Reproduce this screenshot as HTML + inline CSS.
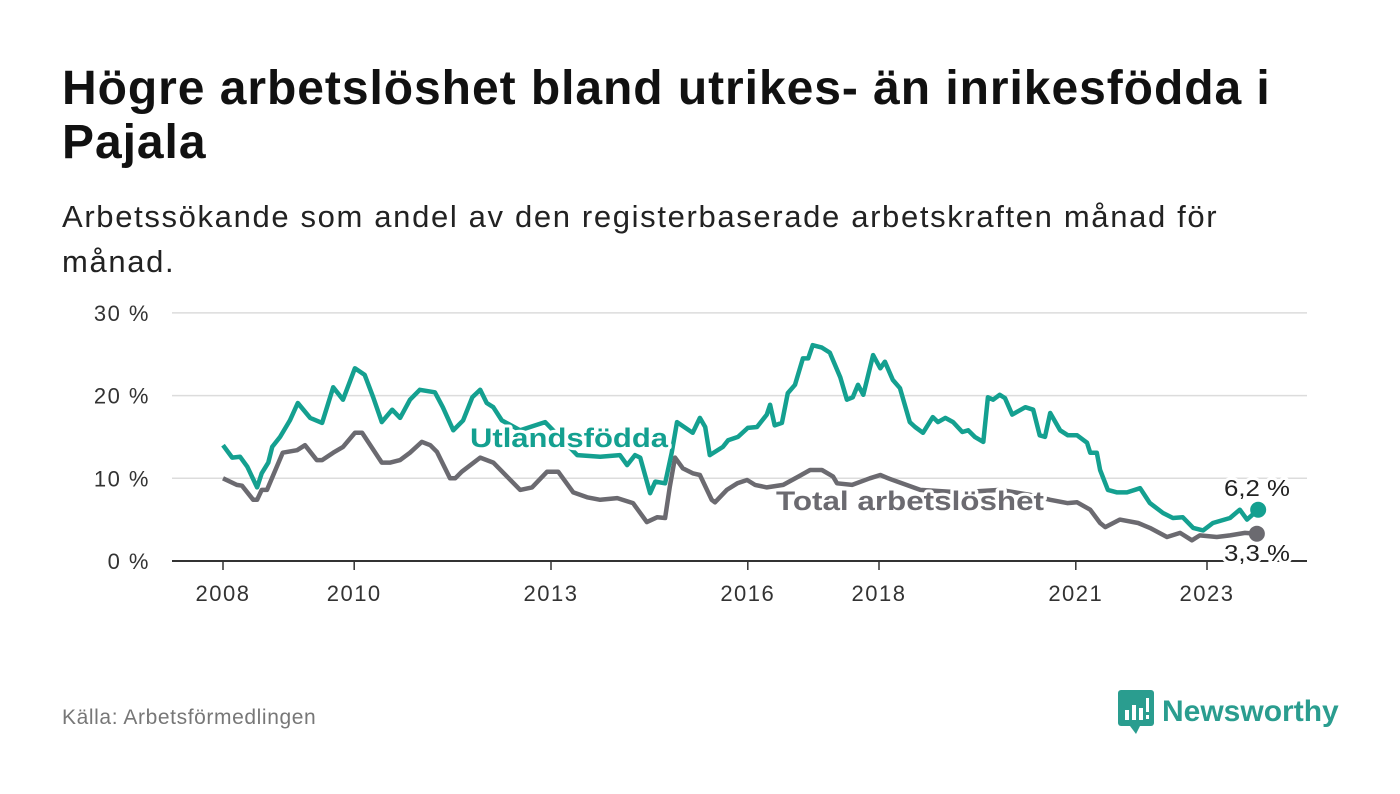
<!DOCTYPE html>
<html><head><meta charset="utf-8">
<style>
body{margin:0;width:1400px;height:794px;background:#fff;font-family:"Liberation Sans",sans-serif;overflow:hidden;position:relative}
h1{position:absolute;left:62px;top:62px;margin:0;font-size:48px;line-height:54px;font-weight:bold;color:#111;width:1320px;letter-spacing:0.95px;white-space:nowrap}
.sub{position:absolute;left:62px;top:194px;margin:0;font-size:31px;line-height:45px;color:#222;width:1300px;letter-spacing:1.65px;white-space:nowrap}
.src{position:absolute;left:62px;top:706px;font-size:21px;color:#777;letter-spacing:0.6px}
.logo{position:absolute;left:1118px;top:690px;display:flex;align-items:center}
.logo span{font-size:30px;font-weight:bold;color:#2a9d8f;margin-left:8px}
</style></head><body>
<h1>Högre arbetslöshet bland utrikes- än inrikesfödda i<br>Pajala</h1>
<p class="sub">Arbetssökande som andel av den registerbaserade arbetskraften månad för<br>månad.</p>
<svg id="chart" width="1400" height="794" style="position:absolute;left:0;top:0"></svg>
<div class="src">Källa: Arbetsförmedlingen</div>
<div class="logo">
<svg width="36" height="44"><rect x="0" y="0" width="36" height="36" rx="3" fill="#2a9d8f"/><path d="M12 36 L18 44 L22 36Z" fill="#2a9d8f"/><rect x="7" y="20" width="4" height="10" fill="#fff"/><rect x="14" y="15" width="4" height="15" fill="#fff"/><rect x="21" y="18" width="4" height="12" fill="#fff"/><rect x="28" y="8" width="3" height="14" fill="#fff"/><rect x="28" y="25" width="3" height="4" fill="#fff"/></svg>
<span>Newsworthy</span></div>
<script>
const yTicks=[0,10,20,30];
const xTicks=[2008,2010,2013,2016,2018,2021,2023];
const utlDates=[2008.0,2008.14,2008.26,2008.37,2008.52,2008.59,2008.69,2008.75,2008.87,2009.02,2009.14,2009.33,2009.51,2009.68,2009.83,2010.01,2010.16,2010.29,2010.42,2010.58,2010.70,2010.85,2011.0,2011.23,2011.35,2011.51,2011.66,2011.80,2011.92,2012.02,2012.12,2012.25,2012.53,2012.91,2013.40,2013.75,2014.05,2014.16,2014.28,2014.36,2014.51,2014.59,2014.74,2014.84,2014.92,2015.16,2015.27,2015.35,2015.42,2015.62,2015.70,2015.85,2016.0,2016.14,2016.29,2016.34,2016.41,2016.52,2016.61,2016.72,2016.84,2016.92,2016.99,2017.13,2017.25,2017.41,2017.51,2017.60,2017.68,2017.76,2017.91,2018.02,2018.09,2018.21,2018.32,2018.47,2018.55,2018.67,2018.82,2018.90,2019.01,2019.13,2019.27,2019.36,2019.46,2019.59,2019.66,2019.74,2019.84,2019.92,2020.03,2020.23,2020.35,2020.45,2020.53,2020.61,2020.76,2020.88,2021.02,2021.17,2021.22,2021.32,2021.37,2021.49,2021.63,2021.78,2021.98,2022.13,2022.33,2022.48,2022.63,2022.79,2022.94,2023.09,2023.35,2023.50,2023.61,2023.78];
const utlValues=[14.0,12.5,12.6,11.4,8.9,10.6,11.9,13.8,15.0,17.0,19.1,17.3,16.7,21.0,19.5,23.3,22.5,19.8,16.8,18.3,17.3,19.5,20.7,20.4,18.6,15.8,17.0,19.8,20.7,19.1,18.6,17.0,15.8,16.8,12.8,12.6,12.8,11.6,12.8,12.5,8.2,9.6,9.4,13.1,16.8,15.5,17.3,16.2,12.8,13.8,14.6,15.0,16.1,16.2,17.7,18.9,16.4,16.7,20.3,21.3,24.5,24.5,26.1,25.8,25.2,22.2,19.5,19.8,21.3,20.1,24.9,23.3,24.1,21.9,20.9,16.8,16.2,15.5,17.4,16.8,17.3,16.8,15.6,15.8,15.0,14.4,19.8,19.5,20.1,19.7,17.7,18.6,18.3,15.2,15.0,17.9,15.8,15.2,15.2,14.3,13.1,13.1,11.0,8.6,8.3,8.3,8.8,7.0,5.8,5.2,5.3,4.0,3.7,4.6,5.2,6.2,5.0,6.2];
const totDates=[2008.0,2008.21,2008.29,2008.46,2008.52,2008.59,2008.67,2008.91,2009.13,2009.25,2009.43,2009.51,2009.68,2009.83,2010.01,2010.12,2010.42,2010.55,2010.70,2010.85,2011.03,2011.16,2011.26,2011.46,2011.54,2011.64,2011.92,2012.12,2012.53,2012.71,2012.94,2013.11,2013.34,2013.55,2013.75,2014.01,2014.25,2014.46,2014.62,2014.74,2014.81,2014.89,2015.01,2015.16,2015.27,2015.45,2015.50,2015.68,2015.84,2015.99,2016.11,2016.29,2016.54,2016.77,2016.95,2017.13,2017.30,2017.36,2017.59,2017.86,2018.02,2018.14,2018.63,2019.23,2019.84,2020.30,2020.61,2020.87,2021.02,2021.22,2021.37,2021.45,2021.67,2021.95,2022.13,2022.39,2022.59,2022.77,2022.89,2023.15,2023.35,2023.58,2023.76];
const totValues=[10.0,9.2,9.1,7.4,7.4,8.6,8.6,13.1,13.4,14.0,12.2,12.2,13.1,13.8,15.5,15.5,11.9,11.9,12.2,13.1,14.4,14.0,13.2,10.0,10.0,10.8,12.5,11.9,8.6,8.9,10.8,10.8,8.3,7.7,7.4,7.6,7.0,4.7,5.3,5.2,8.9,12.5,11.2,10.6,10.4,7.4,7.1,8.6,9.4,9.8,9.2,8.9,9.2,10.2,11.0,11.0,10.2,9.4,9.2,10.0,10.4,10.0,8.6,8.3,8.6,8.0,7.4,7.0,7.1,6.2,4.6,4.1,5.0,4.6,4.0,2.9,3.4,2.5,3.1,2.9,3.1,3.4,3.3];

const NS="http://www.w3.org/2000/svg";
const svg=document.getElementById('chart');
const x=d=>223+(d-2008)*65.6;
const y=v=>561-v*8.27;
function mk(t,a){const e=document.createElementNS(NS,t);for(const k in a)e.setAttribute(k,a[k]);svg.appendChild(e);return e;}
yTicks.forEach(t=>{
  if(t>0){const g=mk('line',{x1:172,x2:1307,y1:y(t),y2:y(t),stroke:'#dcdcdc','stroke-width':1.5});
  
  }
  const l=mk('text',{x:150,y:y(t)+8,'text-anchor':'end','font-size':22,fill:'#333','letter-spacing':1.5});l.textContent=t+' %';
  
  
});
const ax=mk('line',{x1:172,x2:1307,y1:561,y2:561,stroke:'#333','stroke-width':2});


xTicks.forEach(t=>{
  const tk=mk('line',{x1:x(t),x2:x(t),y1:561,y2:570,stroke:'#333','stroke-width':1.5});
  
  
  const l=mk('text',{x:x(t),y:601,'text-anchor':'middle','font-size':22,fill:'#333','letter-spacing':1.5});l.textContent=t;
  
  
});
function line(ds,vs,c,name){
  const p=mk('path',{d:ds.map((d,i)=>(i?'L':'M')+x(d).toFixed(1)+' '+y(vs[i]).toFixed(1)).join(''),fill:'none',stroke:c,'stroke-width':4.5,'stroke-linejoin':'round'});
  
  
  const n=ds.length-1;
  const dot=mk('circle',{cx:x(ds[n]),cy:y(vs[n]),r:8,fill:c});
  
  
}
line(totDates,totValues,'#6b6a70','total-line');
line(utlDates,utlValues,'#14a090','utlandsfodda-line');
function lab(t,xx,yy,c,name,fs,bold,anchor,len){
  const a={x:xx,y:yy,'font-size':fs,'font-weight':bold?'bold':'normal',fill:c,stroke:'#fff','stroke-width':6,'paint-order':'stroke','stroke-linejoin':'round','text-anchor':anchor||'start'};
  if(len){a.textLength=len;a.lengthAdjust='spacingAndGlyphs';}
  const e=mk('text',a);
  e.textContent=t;
  
  
}
lab('Utlandsfödda',470,447,'#14a090','utlandsfodda-label',27,true,'start',198);
lab('Total arbetslöshet',776,510,'#6b6a70','total-label',27,true,'start',268);
const un=utlValues.length-1, tn=totValues.length-1;
lab(utlValues[un].toFixed(1).replace('.',',')+' %',1290,496,'#222','utlandsfodda-value-label',23,false,'end',66);
lab(totValues[tn].toFixed(1).replace('.',',')+' %',1290,561,'#222','total-value-label',23,false,'end',66);
</script>
</body></html>
